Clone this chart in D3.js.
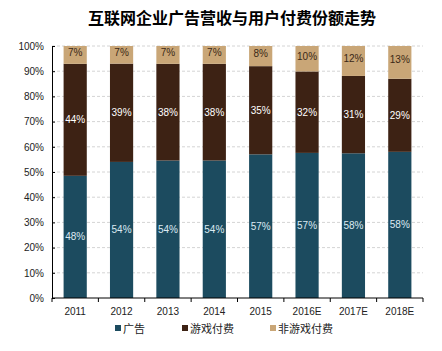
<!DOCTYPE html>
<html>
<head>
<meta charset="utf-8">
<script src="https://cdn.jsdelivr.net/npm/d3@7"></script>
<style>
  body { margin: 0; background: #fff; }
  svg { display: block; font-family: "Liberation Sans", Arial, sans-serif; }
</style>
</head>
<body>
<div id="chart"></div>
<script>
const years = ['2011', '2012', '2013', '2014', '2015', '2016E', '2017E', '2018E'];
const ads = [48, 54, 54, 54, 57, 57, 58, 58];
const games = [44, 39, 38, 38, 35, 32, 31, 29];
const nonGames = [7, 7, 7, 7, 8, 10, 12, 13];
const yTicks = [0, 10, 20, 30, 40, 50, 60, 70, 80, 90, 100];

const seriesNames = ['广告', '游戏付费', '非游戏付费'];
const keys = ['ads', 'games', 'nonGames'];
const colors = ['#1c4b5f', '#3d2214', '#c9a677'];
const labelColors = ['#dceaf2', '#ffffff', '#3a2816'];

const width = 442, height = 351;
const margin = { top: 46, right: 19, bottom: 53, left: 52 };

const rows = years.map((y, i) => ({ year: y, ads: ads[i], games: games[i], nonGames: nonGames[i] }));
const stacked = d3.stack().keys(keys).offset(d3.stackOffsetExpand)(rows);

const svg = d3.select('#chart').append('svg')
    .attr('width', width)
    .attr('height', height);

const x = d3.scaleBand()
    .domain(years)
    .range([margin.left, width - margin.right])
    .paddingInner(0.5)
    .paddingOuter(0.25);

const y = d3.scaleLinear()
    .domain([0, 1])
    .range([height - margin.bottom, margin.top]);

// title
svg.append('text')
    .attr('x', 232)
    .attr('y', 24)
    .attr('text-anchor', 'middle')
    .style('font-family', '"Noto Sans CJK SC", sans-serif')
    .style('font-weight', 'bold')
    .style('font-size', '16px')
    .attr('fill', '#000')
    .text('互联网企业广告营收与用户付费份额走势');

// grid lines
svg.append('g')
    .selectAll('line')
    .data(yTicks.filter(d => d > 0))
    .join('line')
    .attr('x1', margin.left)
    .attr('x2', width - margin.right)
    .attr('y1', d => y(d / 100))
    .attr('y2', d => y(d / 100))
    .attr('stroke', '#d4d4d4')
    .attr('stroke-dasharray', '3,2');

// bars
const layers = svg.append('g')
    .selectAll('g')
    .data(stacked)
    .join('g')
    .attr('fill', (d, i) => colors[i]);

layers.selectAll('rect')
    .data(d => d)
    .join('rect')
    .attr('x', d => x(d.data.year))
    .attr('width', x.bandwidth())
    .attr('y', d => y(d[1]))
    .attr('height', d => y(d[0]) - y(d[1]));

// labels
layers.each(function(layer, i) {
    d3.select(this).selectAll('text')
        .data(layer)
        .join('text')
        .attr('x', d => x(d.data.year) + x.bandwidth() / 2)
        .attr('y', d => (y(d[0]) + y(d[1])) / 2 + (i === 2 ? 1 : 3.5))
        .attr('text-anchor', 'middle')
        .attr('fill', labelColors[i])
        .style('font-size', '10px')
        .text(d => d.data[keys[i]] + '%');
});

// y axis
const yAxis = svg.append('g')
    .attr('transform', `translate(${margin.left},0)`)
    .call(d3.axisLeft(y)
        .tickValues(yTicks.map(d => d / 100))
        .tickFormat(d => Math.round(d * 100) + '%')
        .tickSize(-3)
        .tickPadding(8));
yAxis.select('.domain').attr('stroke', '#000');
yAxis.selectAll('.tick line').attr('stroke', '#000');
yAxis.selectAll('.tick text')
    .attr('fill', '#222')
    .style('font-size', '10px')
    .style('font-family', '"Liberation Sans", Arial, sans-serif');

// x axis
const xAxis = svg.append('g')
    .attr('transform', `translate(0,${height - margin.bottom})`);
xAxis.append('line')
    .attr('x1', margin.left)
    .attr('x2', width - margin.right)
    .attr('stroke', '#000');
const step = x.step();
xAxis.selectAll('.sep')
    .data(d3.range(years.length + 1))
    .join('line')
    .attr('class', 'sep')
    .attr('x1', i => margin.left + i * (width - margin.left - margin.right) / years.length)
    .attr('x2', i => margin.left + i * (width - margin.left - margin.right) / years.length)
    .attr('y1', 0)
    .attr('y2', 4)
    .attr('stroke', '#000');
xAxis.selectAll('.lbl')
    .data(years)
    .join('text')
    .attr('class', 'lbl')
    .attr('x', d => x(d) + x.bandwidth() / 2)
    .attr('y', 17)
    .attr('text-anchor', 'middle')
    .attr('fill', '#222')
    .style('font-size', '10px')
    .text(d => d);

// legend
const legendX = [115, 182, 270];
const legend = svg.append('g')
    .selectAll('g')
    .data(seriesNames)
    .join('g')
    .attr('transform', (d, i) => `translate(${legendX[i]},329)`);
legend.append('rect')
    .attr('y', -4)
    .attr('width', 6)
    .attr('height', 6)
    .attr('fill', (d, i) => colors[i]);
legend.append('text')
    .attr('x', 8)
    .attr('y', 3.5)
    .attr('fill', '#222')
    .style('font-family', '"Noto Sans CJK SC", sans-serif')
    .style('font-size', '11px')
    .text(d => d);
</script>
</body>
</html>
